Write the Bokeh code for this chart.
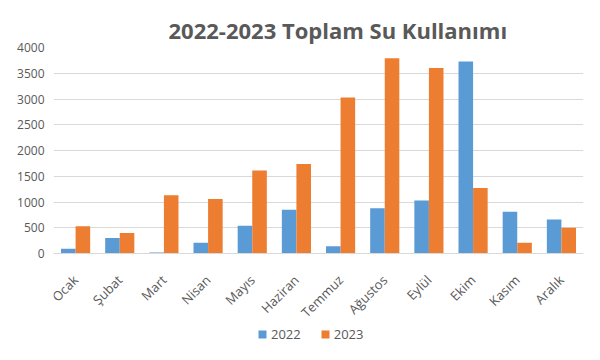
import math
from bokeh.plotting import figure
from bokeh.models import (ColumnDataSource, Legend, LegendItem, FactorRange,
                          FixedTicker, Range1d)
from bokeh.transform import dodge
from bokeh.embed import file_html
from bokeh.resources import INLINE

months = ["Ocak", "Şubat", "Mart", "Nisan", "Mayıs", "Haziran", "Temmuz",
          "Ağustos", "Eylül", "Ekim", "Kasım", "Aralık"]
y2022 = [90, 300, 20, 210, 540, 850, 140, 880, 1030, 3730, 810, 660]
y2023 = [530, 400, 1130, 1060, 1610, 1740, 3030, 3790, 3600, 1270, 210, 500]
y_ticks = [0, 500, 1000, 1500, 2000, 2500, 3000, 3500, 4000]
series_names = ["2022", "2023"]
colors = ["#5B9BD5", "#ED7D31"]

src = ColumnDataSource(dict(month=months, y2022=y2022, y2023=y2023))

FONT = "Open Sans"
GREY = "#595959"

# frame extends below the value axis to leave room for labels and legend
FRAME_H = 300
AXIS_PX = 206
y_max = y_ticks[-1]
y_min = -(FRAME_H - AXIS_PX) / AXIS_PX * y_max

p = figure(x_range=FactorRange(*months), y_range=Range1d(y_min, y_max),
           frame_width=530, frame_height=FRAME_H, output_backend="svg", toolbar_location=None,
           min_border_left=53, min_border_right=15, min_border_top=47, min_border_bottom=0)

r1 = p.vbar(x=dodge("month", -0.165, range=p.x_range), top="y2022", width=0.33,
            source=src, fill_color=colors[0], line_color=None)
r2 = p.vbar(x=dodge("month", 0.165, range=p.x_range), top="y2023", width=0.33,
            source=src, fill_color=colors[1], line_color=None)

p.title.text = "2022-2023 Toplam Su Kullanımı"
p.title.align = "left"
p.title.offset = 115
p.title.text_font = FONT
p.title.text_font_size = "22px"
p.title.text_font_style = "bold"
p.title.text_color = GREY
p.title.standoff = 6

p.outline_line_color = None
p.xgrid.grid_line_color = None
p.ygrid.grid_line_color = "#D9D9D9"
p.ygrid.grid_line_width = 1

p.yaxis.ticker = FixedTicker(ticks=y_ticks)
p.yaxis.axis_line_color = None
p.yaxis.major_tick_line_color = None
p.yaxis.minor_tick_line_color = None
p.yaxis.major_label_text_font = FONT
p.yaxis.major_label_text_font_size = "12px"
p.yaxis.major_label_text_color = GREY
p.yaxis.major_label_standoff = 3

p.xaxis.fixed_location = 0
p.xaxis.axis_line_color = "#D9D9D9"
p.xaxis.major_tick_line_color = None
p.xaxis.minor_tick_line_color = None
p.xaxis.major_label_orientation = math.pi / 4
p.xaxis.major_label_text_font = FONT
p.xaxis.major_label_text_font_size = "13px"
p.xaxis.major_label_text_color = GREY
p.xaxis.major_label_standoff = 18
p.x_range.range_padding = 0
p.x_range.group_padding = 0

legend = Legend(items=[LegendItem(label=series_names[0], renderers=[r1]),
                       LegendItem(label=series_names[1], renderers=[r2])],
                orientation="horizontal", location=(204, 4))
legend.label_text_font = FONT
legend.label_text_font_size = "13px"
legend.label_text_color = GREY
legend.glyph_width = 10
legend.glyph_height = 10
legend.label_height = 14
legend.label_standoff = 4
legend.spacing = 19
legend.border_line_color = None
legend.background_fill_alpha = 0
legend.margin = 0
legend.padding = 0
p.add_layout(legend, "center")

open("out.html", "w").write(file_html(p, INLINE))
